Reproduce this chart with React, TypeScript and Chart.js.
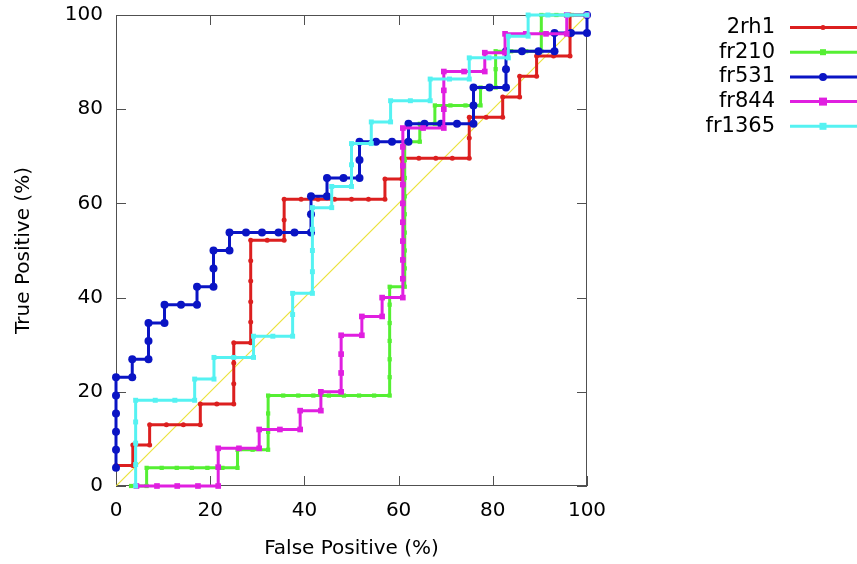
import React, { useEffect, useRef } from "react";
import { Chart, registerables } from "chart.js";

Chart.register(...registerables);

// ROC curves: [false positive %, true positive %]
const rh1: number[][] = [
  [0, 4.35], [3.57, 4.35], [3.57, 8.7], [7.14, 8.7], [7.14, 13.0], [10.7, 13.0], [14.3, 13.0], [17.9, 13.0],
  [17.9, 17.4], [21.4, 17.4], [25.0, 17.4], [25.0, 21.7], [25.0, 26.1], [25.0, 30.4], [28.6, 30.4],
  [28.6, 34.8], [28.6, 39.1], [28.6, 43.5], [28.6, 47.8], [28.6, 52.2], [32.1, 52.2], [35.7, 52.2],
  [35.7, 56.5], [35.7, 60.9], [39.3, 60.9], [42.9, 60.9], [46.4, 60.9], [50.0, 60.9], [53.6, 60.9],
  [57.1, 60.9], [57.1, 65.2], [60.7, 65.2], [60.7, 69.6], [64.3, 69.6], [67.9, 69.6], [71.4, 69.6],
  [75.0, 69.6], [75.0, 73.9], [75.0, 78.3], [78.6, 78.3], [82.1, 78.3], [82.1, 82.6], [85.7, 82.6],
  [85.7, 87.0], [89.3, 87.0], [89.3, 91.3], [92.9, 91.3], [96.4, 91.3], [96.4, 95.7], [96.4, 100], [100, 100],
];

const fr210: number[][] = [
  [3.2, 0], [6.5, 0], [6.5, 3.85], [9.7, 3.85], [12.9, 3.85], [16.1, 3.85], [19.4, 3.85], [22.6, 3.85],
  [25.8, 3.85], [25.8, 7.7], [29.0, 7.7], [32.3, 7.7], [32.3, 11.5], [32.3, 15.4], [32.3, 19.2],
  [35.5, 19.2], [38.7, 19.2], [41.9, 19.2], [45.2, 19.2], [48.4, 19.2], [51.6, 19.2], [54.8, 19.2],
  [58.1, 19.2], [58.1, 23.1], [58.1, 26.9], [58.1, 30.8], [58.1, 34.6], [58.1, 38.5], [58.1, 42.3],
  [61.3, 42.3], [61.3, 46.2], [61.3, 50.0], [61.3, 53.8], [61.3, 57.7], [61.3, 61.5], [61.3, 65.4],
  [61.3, 69.2], [61.3, 73.1], [64.5, 73.1], [64.5, 76.9], [67.7, 76.9], [67.7, 80.8], [71.0, 80.8],
  [74.2, 80.8], [77.4, 80.8], [77.4, 84.6], [80.6, 84.6], [80.6, 88.5], [80.6, 92.3], [83.9, 92.3],
  [87.1, 92.3], [90.3, 92.3], [90.3, 96.2], [90.3, 100], [93.5, 100], [96.8, 100], [100, 100],
];

const fr531: number[][] = [
  [0, 3.85], [0, 7.7], [0, 11.5], [0, 15.4], [0, 19.2], [0, 23.1], [3.45, 23.1], [3.45, 26.9],
  [6.9, 26.9], [6.9, 30.8], [6.9, 34.6], [10.3, 34.6], [10.3, 38.5], [13.8, 38.5], [17.2, 38.5],
  [17.2, 42.3], [20.7, 42.3], [20.7, 46.2], [20.7, 50.0], [24.1, 50.0], [24.1, 53.8], [27.6, 53.8],
  [31.0, 53.8], [34.5, 53.8], [37.9, 53.8], [41.4, 53.8], [41.4, 57.7], [41.4, 61.5], [44.8, 61.5],
  [44.8, 65.4], [48.3, 65.4], [51.7, 65.4], [51.7, 69.2], [51.7, 73.1], [55.2, 73.1], [58.6, 73.1],
  [62.1, 73.1], [62.1, 76.9], [65.5, 76.9], [69.0, 76.9], [72.4, 76.9], [75.9, 76.9], [75.9, 80.8],
  [75.9, 84.6], [79.3, 84.6], [82.8, 84.6], [82.8, 88.5], [82.8, 92.3], [86.2, 92.3], [89.7, 92.3],
  [93.1, 92.3], [93.1, 96.2], [96.6, 96.2], [100, 96.2], [100, 100],
];

const fr844: number[][] = [
  [4.35, 0], [8.7, 0], [13.0, 0], [17.4, 0], [21.7, 0], [21.7, 4], [21.7, 8], [26.1, 8], [30.4, 8],
  [30.4, 12], [34.8, 12], [39.1, 12], [39.1, 16], [43.5, 16], [43.5, 20], [47.8, 20], [47.8, 24],
  [47.8, 28], [47.8, 32], [52.2, 32], [52.2, 36], [56.5, 36], [56.5, 40], [60.9, 40], [60.9, 44],
  [60.9, 48], [60.9, 52], [60.9, 56], [60.9, 60], [60.9, 64], [60.9, 68], [60.9, 72], [60.9, 76],
  [65.2, 76], [69.6, 76], [69.6, 80], [69.6, 84], [69.6, 88], [73.9, 88], [78.3, 88], [78.3, 92],
  [82.6, 92], [82.6, 96], [87.0, 96], [91.3, 96], [95.7, 96], [95.7, 100], [100, 100],
];

const fr1365: number[][] = [
  [4.17, 0], [4.17, 4.55], [4.17, 9.09], [4.17, 13.6], [4.17, 18.2], [8.33, 18.2], [12.5, 18.2],
  [16.7, 18.2], [16.7, 22.7], [20.8, 22.7], [20.8, 27.3], [25.0, 27.3], [29.2, 27.3], [29.2, 31.8],
  [33.3, 31.8], [37.5, 31.8], [37.5, 36.4], [37.5, 40.9], [41.7, 40.9], [41.7, 45.5], [41.7, 50.0],
  [41.7, 54.5], [41.7, 59.1], [45.8, 59.1], [45.8, 63.6], [50.0, 63.6], [50.0, 68.2], [50.0, 72.7],
  [54.2, 72.7], [54.2, 77.3], [58.3, 77.3], [58.3, 81.8], [62.5, 81.8], [66.7, 81.8], [66.7, 86.4],
  [70.8, 86.4], [75.0, 86.4], [75.0, 90.9], [79.2, 90.9], [83.3, 90.9], [83.3, 95.5], [87.5, 95.5],
  [87.5, 100], [91.7, 100], [95.8, 100], [100, 100],
];

const diagonal: number[][] = [[0, 0], [100, 100]];

const seriesNames = ["2rh1", "fr210", "fr531", "fr844", "fr1365"];
const seriesData = [rh1, fr210, fr531, fr844, fr1365];
const seriesColors = ["#dc1f1f", "#55ef33", "#0a14c4", "#e01fe0", "#55f2f2"];
const seriesPointStyles = ["circle", "rect", "circle", "rect", "rect"];
const seriesPointRadius = [2.5, 3, 4, 4, 3.5];

const axisTicks = [0, 20, 40, 60, 80, 100];

const FONT = "'DejaVu Sans', sans-serif";

const framePlugin = {
  id: "gnuFrame",
  beforeDatasetsDraw(chart: any) {
    const { ctx, chartArea, scales } = chart;
    const { left, right, top, bottom } = chartArea;
    ctx.save();
    ctx.strokeStyle = "#505050";
    ctx.lineWidth = 1;
    ctx.strokeRect(left + 0.5, top + 0.5, right - left - 1, bottom - top - 1);
    const tl = 10;
    ctx.beginPath();
    axisTicks.forEach((v) => {
      const x = Math.round(scales.x.getPixelForValue(v)) + 0.5;
      ctx.moveTo(x, bottom);
      ctx.lineTo(x, bottom - tl);
      ctx.moveTo(x, top);
      ctx.lineTo(x, top + tl);
      const y = Math.round(scales.y.getPixelForValue(v)) + 0.5;
      ctx.moveTo(left, y);
      ctx.lineTo(left + tl, y);
      ctx.moveTo(right, y);
      ctx.lineTo(right - tl, y);
    });
    ctx.stroke();
    ctx.restore();
  },
  afterDraw(chart: any) {
    const { ctx } = chart;
    ctx.save();
    ctx.font = `21px ${FONT}`;
    ctx.textAlign = "right";
    ctx.textBaseline = "middle";
    seriesNames.forEach((name, i) => {
      const y = 27.5 + i * 24.7;
      ctx.fillStyle = "#000";
      ctx.fillText(name, 775, y);
      ctx.strokeStyle = seriesColors[i];
      ctx.lineWidth = 3;
      ctx.beginPath();
      ctx.moveTo(790, y);
      ctx.lineTo(857, y);
      ctx.stroke();
      ctx.fillStyle = seriesColors[i];
      const r = seriesPointRadius[i];
      const mx = 823;
      if (seriesPointStyles[i] === "circle") {
        ctx.beginPath();
        ctx.arc(mx, y, r, 0, Math.PI * 2);
        ctx.fill();
      } else {
        ctx.fillRect(mx - r, y - r, 2 * r, 2 * r);
      }
    });
    ctx.restore();
  },
};

export default function App() {
  const canvasRef = useRef<HTMLCanvasElement | null>(null);

  useEffect(() => {
    if (!canvasRef.current) return;
    const datasets: any[] = seriesNames.map((name, i) => ({
      label: name,
      data: seriesData[i].map(([x, y]) => ({ x, y })),
      borderColor: seriesColors[i],
      backgroundColor: seriesColors[i],
      borderWidth: 3,
      pointStyle: seriesPointStyles[i],
      pointRadius: seriesPointRadius[i],
      pointBorderWidth: 0,
      pointBackgroundColor: seriesColors[i],
      tension: 0,
      fill: false,
      clip: false,
      order: 5 - i,
    }));
    datasets.push({
      label: "random",
      data: diagonal.map(([x, y]) => ({ x, y })),
      borderColor: "#ebe23c",
      borderWidth: 1.2,
      pointRadius: 0,
      fill: false,
      order: 10,
    });

    const chart = new Chart(canvasRef.current, {
      type: "line",
      data: { datasets },
      plugins: [framePlugin],
      options: {
        animation: false,
        responsive: true,
        maintainAspectRatio: false,
        layout: { padding: { top: 15, right: 270, bottom: 0, left: 0 } },
        plugins: { legend: { display: false }, tooltip: { enabled: false } },
        scales: {
          x: {
            type: "linear",
            min: 0,
            max: 100,
            afterBuildTicks: (s: any) => {
              s.ticks = axisTicks.map((v) => ({ value: v }));
            },
            afterFit: (s: any) => {
              s.height = 78;
              s.paddingLeft = 0;
              s.paddingRight = 0;
            },
            grid: { display: false, drawTicks: false },
            border: { display: false },
            ticks: { color: "#000", font: { family: FONT, size: 20 }, padding: 13, maxRotation: 0 },
            title: {
              display: true,
              text: "False Positive (%)",
              color: "#000",
              font: { family: FONT, size: 20 },
              padding: { top: 0, bottom: 3 },
            },
          },
          y: {
            type: "linear",
            min: 0,
            max: 100,
            afterBuildTicks: (s: any) => {
              s.ticks = axisTicks.map((v) => ({ value: v }));
            },
            afterFit: (s: any) => {
              s.width = 116;
              s.paddingTop = 0;
              s.paddingBottom = 0;
            },
            grid: { display: false, drawTicks: false },
            border: { display: false },
            ticks: { color: "#000", font: { family: FONT, size: 20 }, padding: 13 },
            title: {
              display: true,
              text: "True Positive (%)",
              color: "#000",
              font: { family: FONT, size: 20 },
              padding: { top: 12, bottom: 0 },
            },
          },
        },
      },
    });
    return () => chart.destroy();
  }, []);

  return (
    <div
      style={{
        position: "fixed",
        left: 0,
        top: 0,
        width: 857,
        height: 564,
        background: "#fff",
      }}
    >
      <canvas ref={canvasRef} />
    </div>
  );
}
